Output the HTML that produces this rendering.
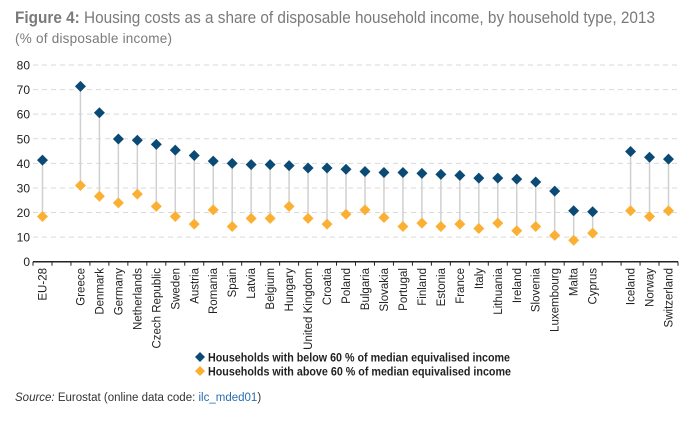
<!DOCTYPE html>
<html><head><meta charset="utf-8"><style>
body{margin:0;background:#fff;width:698px;height:439px;overflow:hidden;font-family:"Liberation Sans",sans-serif}
</style></head><body>
<svg id="c" width="698" height="439" xmlns="http://www.w3.org/2000/svg">
<text x="15" y="23" font-size="16.5" fill="#7a7a7a" textLength="640" lengthAdjust="spacingAndGlyphs"><tspan font-weight="bold">Figure 4:</tspan> Housing costs as a share of disposable household income, by household type, 2013</text>
<text x="15" y="43" font-size="13.5" fill="#7a7a7a" textLength="157">(% of disposable income)</text>
<g id="grid"></g><g id="marks"></g><g id="axis"></g>
<g>
<path d="M200 352 L205 357 L200 362 L195 357 Z" fill="#0b4a74"/>
<text x="208" y="361.5" font-size="11.5" font-weight="bold" fill="#222" textLength="302" lengthAdjust="spacingAndGlyphs">Households with below 60 % of median equivalised income</text>
<path d="M200 366 L205 371 L200 376 L195 371 Z" fill="#fbb034"/>
<text x="208" y="375.5" font-size="11.5" font-weight="bold" fill="#222" textLength="303" lengthAdjust="spacingAndGlyphs">Households with above 60 % of median equivalised income</text>
</g>
<text x="15" y="401" font-size="11.5" fill="#333"><tspan font-style="italic">Source:</tspan> Eurostat (online data code: <tspan fill="#2a6eb0">ilc_mded01</tspan>)</text>
</svg>
<script>
const categories=["EU-28","","Greece","Denmark","Germany","Netherlands","Czech Republic","Sweden","Austria","Romania","Spain","Latvia","Belgium","Hungary","United Kingdom","Croatia","Poland","Bulgaria","Slovakia","Portugal","Finland","Estonia","France","Italy","Lithuania","Ireland","Slovenia","Luxembourg","Malta","Cyprus","","Iceland","Norway","Switzerland"];
const below=[41.3,null,71.3,60.6,49.9,49.4,47.7,45.4,43.2,40.9,40.0,39.5,39.5,39.1,38.1,38.1,37.6,36.7,36.3,36.3,35.9,35.5,35.1,34.0,34.0,33.6,32.4,28.7,20.7,20.3,null,44.8,42.5,41.7];
const above=[18.4,null,31.0,26.6,23.9,27.5,22.5,18.4,15.3,21.1,14.3,17.6,17.6,22.5,17.6,15.3,19.3,21.1,18.0,14.3,15.7,14.3,15.3,13.5,15.7,12.6,14.3,10.7,8.7,11.6,null,20.7,18.4,20.7];
const yTicks=[0,10,20,30,40,50,60,70,80];
const NS="http://www.w3.org/2000/svg";
const x0=33,x1=678,y0=261.7,yTop=65;
const step=(x1-x0)/categories.length;
const xs=i=>x0+step*(i+0.5);
const ys=v=>y0-(v/80)*(y0-yTop);
function mk(t,a,p){const e=document.createElementNS(NS,t);for(const k in a)e.setAttribute(k,a[k]);p.appendChild(e);return e;}
const grid=document.getElementById('grid'),marks=document.getElementById('marks'),axis=document.getElementById('axis');
yTicks.forEach(v=>{
 if(v>0){const l=mk('line',{x1:x0,x2:x1,y1:ys(v),y2:ys(v),stroke:'#d9d9d9','stroke-dasharray':'5,4'},grid);
 
 }
 const t=mk('text',{x:30,y:ys(v)+4.5,'font-size':12,'text-anchor':'end',fill:'#222'},axis);t.textContent=v;
 
 
});
const ax=mk('line',{x1:x0,x2:x1,y1:y0,y2:y0,stroke:'#222','stroke-width':1.5},axis);


for(let i=0;i<=categories.length;i++){const tk=mk('line',{x1:x0+step*i,x2:x0+step*i,y1:y0,y2:y0+4,stroke:'#222'},axis);
 
 }
categories.forEach((c,i)=>{
 if(!c)return;
 const x=xs(i);
 const t=mk('text',{x:0,y:0,'font-size':11.5,'text-anchor':'end',fill:'#222',transform:`translate(${x+4},268) rotate(-90)`},axis);t.textContent=c;
 
 
 const ln=mk('line',{x1:x,x2:x,y1:ys(below[i]),y2:ys(above[i]),stroke:'#d0d0d0','stroke-width':1.5},marks);
 
 
 [[above[i],'#fbb034','above'],[below[i],'#0b4a74','below']].forEach(([v,col,n])=>{
  const y=ys(v);
  const d=mk('path',{d:`M${x} ${y-5.5} L${x+5.5} ${y} L${x} ${y+5.5} L${x-5.5} ${y} Z`,fill:col},marks);
  
  
 });
});
</script>
</body></html>
